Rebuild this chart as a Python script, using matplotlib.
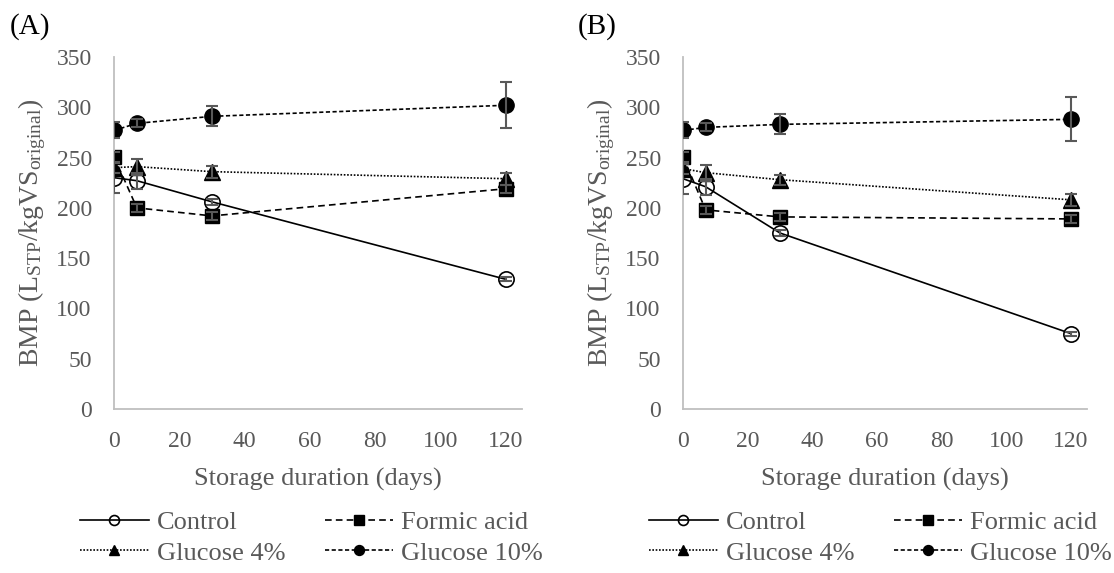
import numpy as np
import matplotlib
matplotlib.use('Agg')
import matplotlib.pyplot as plt

plt.rcParams['font.family'] = ['Liberation Serif', 'DejaVu Serif']
plt.rcParams['mathtext.fontset'] = 'custom'
plt.rcParams['mathtext.rm'] = 'Liberation Serif'
plt.rcParams['mathtext.it'] = 'Liberation Serif:italic'

# storage duration (days)
days = [0, 7, 30, 120]

series_names = ['Control', 'Formic acid', 'Glucose 4%', 'Glucose 10%']

# (A) BMP values, L_STP/kgVS_original
a_control = [230, 227, 206, 129]
a_formic = [251, 200, 192, 219]
a_gluc4 = [240, 241, 236, 229]
a_gluc10 = [277, 284, 291, 302]
a_control_err = [15, 8, 3, 2]
a_formic_err = [5, 4, 4, 4]
a_gluc4_err = [5, 8, 6, 6]
a_gluc10_err = [8, 4, 10, 23]

# (B)
b_control = [229, 221, 175, 75]
b_formic = [251, 198, 191, 189]
b_gluc4 = [239, 235, 228, 208]
b_gluc10 = [277, 280, 283, 288]
b_control_err = [15, 8, 3, 2]
b_formic_err = [5, 4, 4, 4]
b_gluc4_err = [5, 8, 5, 6]
b_gluc10_err = [8, 4, 10, 22]

panels = [
    ('(A)', [a_control, a_formic, a_gluc4, a_gluc10],
     [a_control_err, a_formic_err, a_gluc4_err, a_gluc10_err]),
    ('(B)', [b_control, b_formic, b_gluc4, b_gluc10],
     [b_control_err, b_formic_err, b_gluc4_err, b_gluc10_err]),
]

# marker / line style per series
styles = [
    dict(ls='-', marker='o', ms=11, mfc='none', mec='black', mew=1.2),
    dict(ls=(0, (4, 2.5)), marker='s', ms=10, mfc='black', mec='black'),
    dict(ls=(0, (1, 1)), marker='^', ms=11, mfc='black', mec='black'),
    dict(ls=(0, (2.5, 1.5)), marker='o', ms=11, mfc='black', mec='black'),
]

grey = '#595959'
W, H = 1114, 573
fig = plt.figure(figsize=(W / 100, H / 100), dpi=100)

ax_lefts = [114, 683]
ax_rights = [522, 1087]
title_x = [10, 578]

for k, (title, vals, errs) in enumerate(panels):
    l, r = ax_lefts[k], ax_rights[k]
    ax = fig.add_axes([l / W, 1 - 409 / H, (r - l) / W, 352 / H])
    handles = []
    for name, v, e, st in zip(series_names, vals, errs, styles):
        h, = ax.plot(days, v, color='black', lw=1.2, label=name, zorder=2, **st)
        ax.errorbar(days, v, yerr=e, fmt='none', ecolor=grey, elinewidth=1.5,
                    capsize=4.5, capthick=1.5, zorder=3)
        handles.append(h)

    ax.set_xlim(0, 125)
    ax.set_ylim(0, 350)
    ax.set_xticks(np.arange(0, 121, 20))
    ax.set_yticks(np.arange(0, 351, 50))
    ax.tick_params(length=0, labelsize=17, labelcolor=grey)
    ax.tick_params(axis='x', pad=16)
    ax.tick_params(axis='y', pad=16)
    for s in ['top', 'right']:
        ax.spines[s].set_visible(False)
    for s in ['left', 'bottom']:
        ax.spines[s].set_color('#bfbfbf')
        ax.spines[s].set_linewidth(1.3)

    ax.set_xlabel('Storage duration (days)', fontsize=19, color=grey, labelpad=11)
    ax.set_ylabel(r'BMP (L$_{\mathrm{STP}}$/kgVS$_{\mathrm{original}}$)',
                  fontsize=20, color=grey, labelpad=6)

    fig.text(title_x[k] / W, 1 - 27 / H, title, fontsize=21, va='center', ha='left')

    # row order as in the reference: Control, Formic / Glucose 4%, Glucose 10%
    order = [0, 2, 1, 3]
    leg = ax.legend(handles=[handles[i] for i in order], ncol=2, loc='upper left',
                    bbox_to_anchor=((l - 34) / W, 1 - 511 / H),
                    bbox_transform=fig.transFigure, frameon=False,
                    fontsize=19, handlelength=2.6, handletextpad=0.3,
                    columnspacing=1.5, labelspacing=0.25, borderpad=0,
                    borderaxespad=0, markerscale=0.65)
    for t in leg.get_texts():
        t.set_color(grey)

fig.savefig('out.png', dpi=100)
